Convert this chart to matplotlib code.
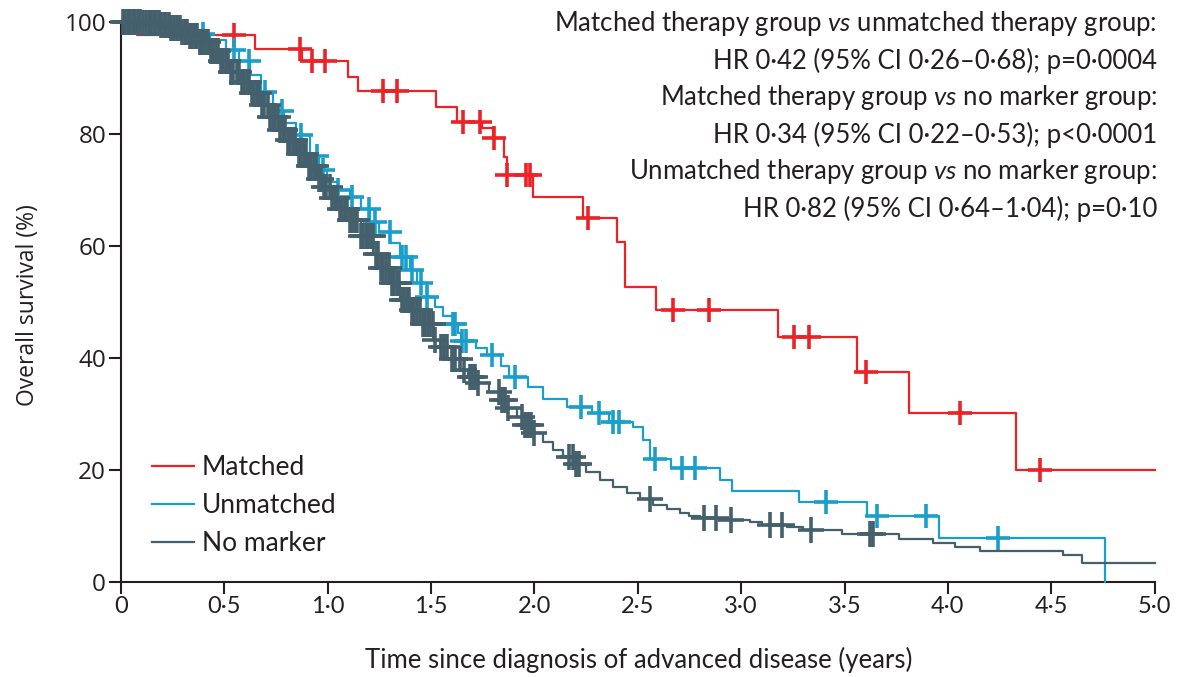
import numpy as np
import matplotlib
matplotlib.use("Agg")
import matplotlib.pyplot as plt

# Kaplan-Meier curves: step times (years) and survival (%) after each step
matched_t = [0, 0.08, 0.649, 0.875, 1.10, 1.149, 1.525, 1.625, 1.746, 1.799, 1.855, 1.869, 1.992,
             2.237, 2.398, 2.439, 2.589, 3.177, 3.562, 3.813, 4.329, 5.0]
matched_s = [100, 97.6, 95.1, 92.9, 90.2, 87.7, 84.8, 82.1, 81.0, 79.2, 75.9, 72.6, 68.75,
             64.9, 60.7, 52.7, 48.6, 43.75, 37.5, 30.1, 20.0, 20.0]
matched_cens = [0.549, 0.867, 0.923, 0.988, 1.27, 1.337, 1.654, 1.737, 1.805, 1.87, 1.962, 1.978,
                2.261, 2.672, 2.846, 3.256, 3.33, 3.604, 4.058, 4.445]

unmatched_t = [0, 0.10, 0.20, 0.30, 0.38, 0.43, 0.51, 0.57, 0.625, 0.68, 0.737, 0.79, 0.85, 0.915,
               0.96, 0.996, 1.05, 1.109, 1.16, 1.205, 1.25, 1.302, 1.35, 1.399, 1.431, 1.48, 1.52,
               1.56, 1.608, 1.63, 1.645, 1.72, 1.77, 1.84, 1.88, 1.971, 2.04, 2.157, 2.28, 2.36,
               2.479, 2.527, 2.56, 2.66, 2.898, 2.954, 3.282, 3.61, 3.958, 4.76]
unmatched_s = [100, 99.5, 99.0, 98.5, 97.8, 96.8, 95.0, 93.0, 90.5, 87.5, 84.0, 82.0, 79.8, 76.1,
               73.5, 71.4, 70.0, 68.75, 66.5, 64.3, 62.5, 60.4, 58.0, 55.7, 53.3, 50.9, 49.0,
               47.5, 46.1, 44.5, 42.9, 41.8, 40.5, 38.5, 36.6, 34.8, 32.7, 31.25, 30.1, 28.6,
               27.7, 25.3, 22.0, 20.25, 18.2, 16.25, 14.2, 11.8, 7.75, 0]
unmatched_cens = [0.40, 0.55, 0.62, 0.70, 0.78, 0.87, 0.95, 0.98, 1.05, 1.12, 1.20, 1.23, 1.30, 1.36,
                  1.38, 1.41, 1.45, 1.48, 1.608, 1.617, 1.649, 1.67, 1.794, 1.907, 2.224, 2.313,
                  2.38, 2.41, 2.584, 2.713, 2.777, 3.41, 3.659, 3.893, 4.244]

nomarker_t = [0, 0.10, 0.19, 0.24, 0.287, 0.33, 0.383, 0.43, 0.48, 0.53, 0.577, 0.625, 0.674, 0.72,
              0.77, 0.81, 0.851, 0.90, 0.948, 0.98, 1.02, 1.06, 1.109, 1.16, 1.221, 1.26, 1.302,
              1.351, 1.399, 1.447, 1.512, 1.544, 1.60, 1.641, 1.68, 1.721, 1.78, 1.834, 1.875,
              1.915, 1.955, 1.995, 2.04, 2.092, 2.14, 2.189, 2.25, 2.318, 2.38, 2.447, 2.51,
              2.575, 2.64, 2.705, 2.75, 2.801, 2.92, 3.043, 3.10, 3.22, 3.30, 3.486, 3.765,
              3.926, 4.034, 4.155, 4.555, 4.647, 5.0]
nomarker_s = [100, 99.7, 99.4, 98.9, 98.2, 97.4, 96.4, 94.8, 92.9, 91.1, 89.3, 87.2, 85.1, 83.0,
              80.7, 78.8, 76.4, 74.2, 72.0, 70.5, 68.5, 66.6, 64.6, 61.8, 58.6, 56.0, 53.3,
              50.3, 48.5, 46.1, 43.2, 42.0, 39.8, 37.8, 36.5, 35.4, 33.8, 32.4, 31.0,
              29.5, 28.0, 26.5, 25.0, 23.5, 22.3, 21.1, 19.6, 18.2, 17.0, 15.8, 14.7,
              13.7, 12.9, 12.2, 11.7, 11.3, 11.0, 10.7, 10.2, 9.8, 9.2, 8.46, 7.7,
              6.98, 6.25, 5.5, 4.76, 3.4, 3.4]
# censoring in the no-marker group is so dense it forms a solid band up to ~1.5 years
nomarker_cens = [0.01, 0.02, 0.035, 0.045, 0.06, 0.07, 0.085, 0.095, 0.11, 0.12, 0.135, 0.145,
                 0.16, 0.17, 0.185, 0.195, 0.21, 0.22, 0.235, 0.245, 0.26, 0.27, 0.285, 0.295,
                 0.31, 0.32, 0.335, 0.345, 0.36, 0.37, 0.385, 0.395, 0.41, 0.42, 0.435, 0.445,
                 0.46, 0.47, 0.485, 0.495, 0.51, 0.52, 0.535, 0.545, 0.56, 0.57, 0.585, 0.595,
                 0.61, 0.62, 0.635, 0.645, 0.66, 0.67, 0.685, 0.695, 0.71, 0.72, 0.735, 0.745,
                 0.76, 0.77, 0.785, 0.795, 0.81, 0.82, 0.835, 0.845, 0.86, 0.87, 0.885, 0.895,
                 0.91, 0.92, 0.935, 0.945, 0.96, 0.97, 0.985, 0.995, 1.01, 1.02, 1.035, 1.045,
                 1.06, 1.07, 1.085, 1.095, 1.11, 1.12, 1.135, 1.145, 1.16, 1.17, 1.185, 1.195,
                 1.21, 1.22, 1.235, 1.245, 1.26, 1.27, 1.285, 1.295, 1.31, 1.32, 1.335, 1.345,
                 1.36, 1.37, 1.385, 1.395, 1.41, 1.42, 1.435, 1.445, 1.46, 1.47, 1.485, 1.495,
                 1.51, 1.52, 1.55, 1.565, 1.58, 1.60, 1.615, 1.64, 1.66, 1.69, 1.70, 1.715, 1.73,
                 1.83, 1.845, 1.86, 1.875, 1.94, 1.955, 1.97, 1.985, 2.00, 2.17, 2.185, 2.20,
                 2.215, 2.56, 2.82, 2.88, 2.95, 3.14, 3.20, 3.34, 3.625, 3.64]

labels = ["Matched", "Unmatched", "No marker"]
colors = ["#ec2227", "#1a9fcc", "#44606c"]
cross_size = [17, 17, 19]

hr_lines = [
    r"Matched therapy group $\mathit{vs}$ unmatched therapy group:",
    "HR 0·42 (95% CI 0·26–0·68); p=0·0004",
    r"Matched therapy group $\mathit{vs}$ no marker group:",
    "HR 0·34 (95% CI 0·22–0·53); p<0·0001",
    r"Unmatched therapy group $\mathit{vs}$ no marker group:",
    "HR 0·82 (95% CI 0·64–1·04); p=0·10",
]
x_ticks = [0, 0.5, 1.0, 1.5, 2.0, 2.5, 3.0, 3.5, 4.0, 4.5, 5.0]
x_ticklabels = ["0", "0·5", "1·0", "1·5", "2·0", "2·5", "3·0", "3·5", "4·0", "4·5", "5·0"]
y_ticks = [0, 20, 40, 60, 80, 100]

plt.rcParams['font.family'] = ['Lato', 'DejaVu Sans']
plt.rcParams['mathtext.fontset'] = 'custom'
plt.rcParams['mathtext.rm'] = 'Lato'
plt.rcParams['mathtext.it'] = 'Lato:italic'

W, H = 1191, 677
fig = plt.figure(figsize=(W / 100, H / 100), dpi=100)
ax = fig.add_axes([120.7 / W, 1 - 581.7 / H, 1034 / W, 560 / H])


def surv_at(times, surv, t):
    i = np.searchsorted(times, t, side="right") - 1
    return np.asarray(surv)[i]


curves = [(matched_t, matched_s, matched_cens),
          (unmatched_t, unmatched_s, unmatched_cens),
          (nomarker_t, nomarker_s, nomarker_cens)]
for (t, s, c), lab, col, ms in zip(curves, labels, colors, cross_size):
    ax.step(t, s, where="post", color=col, lw=1.6, label=lab, clip_on=False, zorder=3)
    ax.plot(c, surv_at(t, s, c), ls="none", marker="+", ms=ms, mew=2.6, color=col,
            clip_on=False, zorder=3)

ax.set_xlim(0, 5)
ax.set_ylim(0, 100)
for side in ["top", "right"]:
    ax.spines[side].set_visible(False)
for side in ["left", "bottom"]:
    ax.spines[side].set_linewidth(1.5)
    ax.spines[side].set_color("#231f20")
ax.tick_params(direction="out", length=8.5, width=1.5, color="#231f20", pad=2)
ax.set_xticks(x_ticks)
ax.set_xticklabels(x_ticklabels, fontsize=17, color="#231f20")
ax.set_yticks(y_ticks)
ax.set_yticklabels([str(v) for v in y_ticks], fontsize=17.5, family="Open Sans", color="#231f20")

fig.text(639 / W, 1 - 660 / H, "Time since diagnosis of advanced disease (years)",
         ha="center", va="center", fontsize=18.5, color="#231f20")
fig.text(28 / W, 1 - 305 / H, "Overall survival (%)", rotation=90, ha="center", va="center",
         fontsize=16.5, family="Open Sans", color="#231f20")

for i, line in enumerate(hr_lines):
    fig.text(1157 / W, 1 - (24 + 37 * i) / H, line, ha="right", va="center",
             fontsize=18.5, color="#231f20")

ax.legend(loc="upper left", bbox_to_anchor=(0.02, 0.245), frameon=False, fontsize=19,
          handlelength=1.6, handletextpad=0.3, labelspacing=0.5, borderaxespad=0,
          labelcolor="#231f20")

fig.savefig("out.png", dpi=100)
